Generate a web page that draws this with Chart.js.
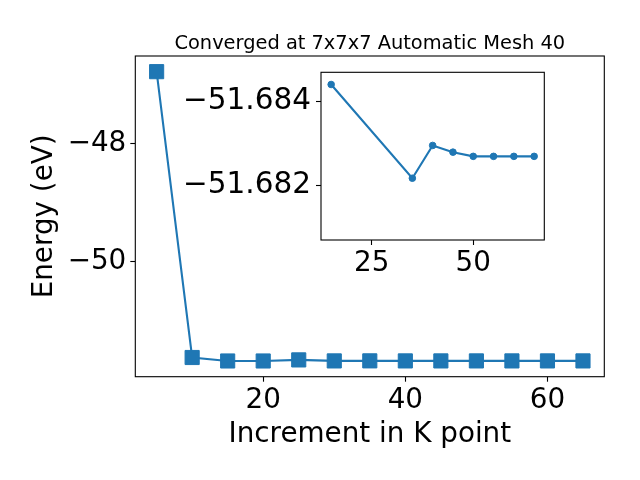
<!DOCTYPE html>
<html>
<head>
<meta charset="utf-8">
<script src="https://cdn.jsdelivr.net/npm/chart.js@4/dist/chart.umd.min.js"></script>
<style>
  html, body { margin: 0; padding: 0; background: #fff; }
  #wrap { position: relative; width: 640px; height: 480px; }
  #main { position: absolute; left: 0; top: 0; }
  #inset { position: absolute; left: 170px; top: 60px; }
</style>
</head>
<body>
<div id="wrap">
  <canvas id="main" width="640" height="480"></canvas>
  <canvas id="inset" width="390" height="220"></canvas>
</div>
<script>
// ---- data ----
const kPoints = [5, 10, 15, 20, 25, 30, 35, 40, 45, 50, 55, 60, 65];
const energies = [-46.772, -51.625, -51.684, -51.684, -51.666, -51.683, -51.682, -51.683, -51.683, -51.683, -51.683, -51.683, -51.683];
const insetK = [15, 35, 40, 45, 50, 55, 60, 65];
const insetEnergies = [-51.6844, -51.68217, -51.68295, -51.68279, -51.68269, -51.68269, -51.68269, -51.68269];
const mainXTicks = [20, 40, 60];
const mainYTicks = [-50, -48];
const insetXTicks = [25, 50];
const insetYTicks = [-51.684, -51.682];
const titleText = 'Converged at 7x7x7 Automatic Mesh 40';
const xTitle = 'Increment in K point';
const yTitle = 'Energy (eV)';

const BLUE = '#1f77b4';
const FONT = 'DejaVu Sans';
const TICK_FONT = { family: FONT, size: 27.8 };
const minus = v => String(v).replace('-', '\u2212');

const framePlugin = {
  id: 'frame',
  afterDraw(chart) {
    const { ctx, chartArea: a } = chart;
    ctx.save();
    ctx.strokeStyle = '#000';
    ctx.lineWidth = 1.1;
    ctx.strokeRect(a.left, a.top, a.right - a.left, a.bottom - a.top);
    ctx.restore();
  }
};

// title centred over the plotting area (as matplotlib does)
const axesTitlePlugin = {
  id: 'axesTitle',
  afterDraw(chart, args, opts) {
    if (!opts.text) return;
    const { ctx, chartArea: a } = chart;
    ctx.save();
    ctx.fillStyle = '#000';
    ctx.font = opts.size + 'px "' + FONT + '"';
    ctx.textAlign = 'center';
    ctx.textBaseline = 'alphabetic';
    ctx.fillText(opts.text, (a.left + a.right) / 2, opts.baseline);
    ctx.restore();
  }
};

function axisGrid() {
  return { display: true, drawOnChartArea: false, drawTicks: true, tickLength: 5, tickWidth: 1.1, tickColor: '#000' };
}
function noPadX(s, h) { s.height = h; s.paddingLeft = 0; s.paddingRight = 0; }
function noPadY(s, w) { s.width = w; s.paddingTop = 0; s.paddingBottom = 0; }

new Chart(document.getElementById('main'), {
  type: 'scatter',
  data: {
    datasets: [{
      data: kPoints.map((k, i) => ({ x: k, y: energies[i] })),
      showLine: true,
      borderColor: BLUE,
      backgroundColor: BLUE,
      borderWidth: 2.1,
      pointStyle: 'rect',
      pointRadius: 10,
      pointBorderWidth: 1,
      pointBorderColor: BLUE,
      pointBackgroundColor: BLUE
    }]
  },
  options: {
    responsive: false,
    animation: false,
    layout: { padding: { left: 0, right: 35.7, top: 56, bottom: 0 } },
    plugins: {
      legend: { display: false },
      tooltip: { enabled: false },
      title: { display: false },
      axesTitle: { text: titleText, size: 19.4, baseline: 48.5 }
    },
    scales: {
      x: {
        type: 'linear',
        min: 2, max: 68,
        afterBuildTicks: s => { s.ticks = mainXTicks.map(v => ({ value: v })); },
        afterFit: s => noPadX(s, 103.3),
        grid: axisGrid(),
        border: { display: false },
        ticks: { color: '#000', font: TICK_FONT, padding: 2, maxRotation: 0, autoSkip: false, callback: v => minus(v) },
        title: { display: true, text: xTitle, color: '#000', font: { family: FONT, size: 27.8 }, padding: { top: 0, bottom: 29 } }
      },
      y: {
        type: 'linear',
        min: -51.951, max: -46.506,
        afterBuildTicks: s => { s.ticks = mainYTicks.map(v => ({ value: v })); },
        afterFit: s => noPadY(s, 135.3),
        grid: axisGrid(),
        border: { display: false },
        ticks: { color: '#000', font: TICK_FONT, padding: 4, autoSkip: false, callback: v => minus(v) },
        title: { display: true, text: yTitle, color: '#000', font: { family: FONT, size: 27.8 }, padding: { top: 28, bottom: 0 } }
      }
    }
  },
  plugins: [framePlugin, axesTitlePlugin]
});

new Chart(document.getElementById('inset'), {
  type: 'scatter',
  data: {
    datasets: [{
      data: insetK.map((k, i) => ({ x: k, y: insetEnergies[i] })),
      showLine: true,
      borderColor: BLUE,
      backgroundColor: BLUE,
      borderWidth: 2.1,
      pointStyle: 'circle',
      pointRadius: 3.3,
      pointBorderWidth: 1,
      pointBorderColor: BLUE,
      pointBackgroundColor: BLUE
    }]
  },
  options: {
    responsive: false,
    animation: false,
    layout: { padding: { left: 0, right: 15.7, top: 12.3, bottom: 0 } },
    plugins: { legend: { display: false }, tooltip: { enabled: false }, title: { display: false } },
    scales: {
      x: {
        type: 'linear',
        min: 12.5, max: 67.5,
        afterBuildTicks: s => { s.ticks = insetXTicks.map(v => ({ value: v })); },
        afterFit: s => noPadX(s, 40),
        grid: axisGrid(),
        border: { display: false },
        ticks: { color: '#000', font: TICK_FONT, padding: 2, maxRotation: 0, autoSkip: false, callback: v => minus(v) }
      },
      y: {
        type: 'linear',
        reverse: true,
        min: -51.68469, max: -51.6807,
        afterBuildTicks: s => { s.ticks = insetYTicks.map(v => ({ value: v })); },
        afterFit: s => noPadY(s, 151),
        grid: axisGrid(),
        border: { display: false },
        ticks: { color: '#000', font: { family: FONT, size: 29.5 }, padding: 5, autoSkip: false, callback: v => minus(Number(v).toFixed(3)) }
      }
    }
  },
  plugins: [framePlugin]
});
</script>
</body>
</html>
